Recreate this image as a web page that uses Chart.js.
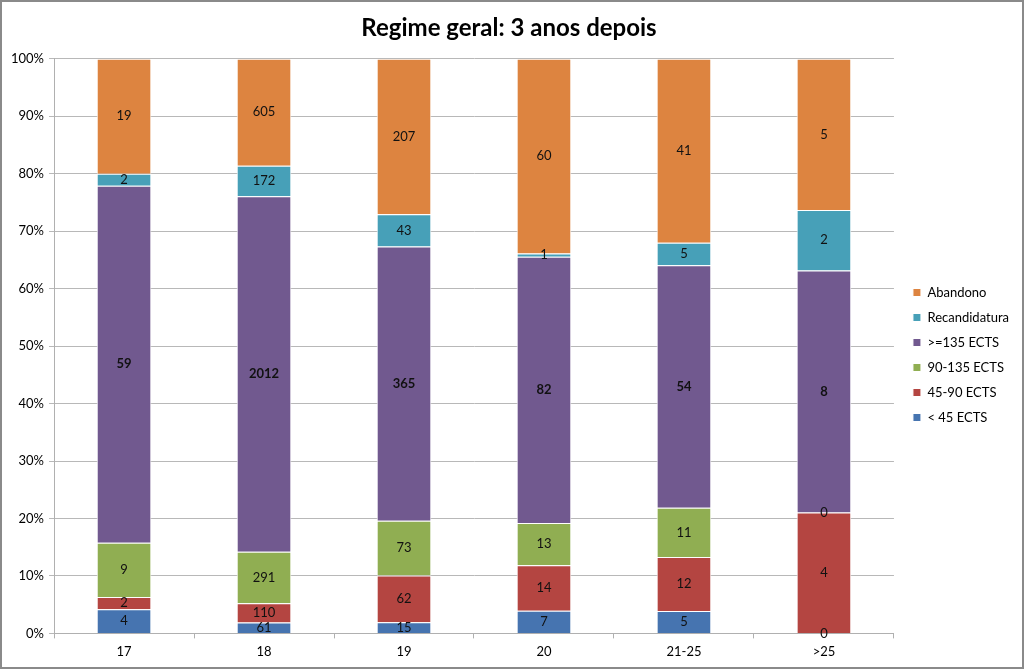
<!DOCTYPE html>
<html>
<head>
<meta charset="utf-8">
<script src="https://cdn.jsdelivr.net/npm/chart.js@4"></script>
<style>
  html, body { margin: 0; padding: 0; background: #fff; }
  #wrap { width: 1024px; height: 669px; position: relative; }
</style>
</head>
<body>
<div id="wrap"><canvas id="chart_regime" width="1024" height="669"></canvas></div>
<script>
// idades de entrada
var categorias = ['17', '18', '19', '20', '21-25', '>25'];

// contagens por grupo
var menos45 = [4, 61, 15, 7, 5, 0];
var de45a90 = [2, 110, 62, 14, 12, 4];
var de90a135 = [9, 291, 73, 13, 11, 0];
var mais135 = [59, 2012, 365, 82, 54, 8];
var recandidatura = [2, 172, 43, 1, 5, 2];
var abandono = [19, 605, 207, 60, 41, 5];

var nomes = ['< 45 ECTS', '45-90 ECTS', '90-135 ECTS', '>=135 ECTS', 'Recandidatura', 'Abandono'];
var cores = ['#4674B0', '#B44541', '#90AE52', '#71598F', '#47A0B8', '#DD8440'];

var series = [menos45, de45a90, de90a135, mais135, recandidatura, abandono];
var totais = categorias.map((c, i) => series.reduce((s, arr) => s + arr[i], 0));

var datasets = series.map((arr, k) => ({
    label: nomes[k],
    data: arr.map((v, i) => v / totais[i] * 100),
    counts: arr,
    backgroundColor: cores[k],
    borderColor: '#ffffff',
    borderWidth: 1,
    categoryPercentage: 1,
    barPercentage: 0.39
}));

// escreve as contagens no meio de cada segmento
var rotulos = {
    id: 'rotulos',
    afterDatasetsDraw(chart) {
        var ctx = chart.ctx;
        ctx.save();
        ctx.textAlign = 'center';
        ctx.textBaseline = 'middle';
        ctx.fillStyle = '#111';
        chart.data.datasets.forEach((ds, k) => {
            ctx.font = (k == 3 ? 'bold ' : '') + '13px Lato';
            chart.getDatasetMeta(k).data.forEach((el, i) => {
                ctx.fillText(String(ds.counts[i]), el.x, (el.y + el.base) / 2);
            });
        });
        ctx.restore();
    }
};

// empurra a legenda um pouco para a direita e para baixo, como no original
var ajusteLegenda = {
    id: 'ajusteLegenda',
    afterLayout(chart) {
        var lg = chart.legend;
        lg.left += 7; lg.right += 7;
        lg.top += 18; lg.bottom += 18;
    }
};

// moldura à volta do gráfico
var moldura = {
    id: 'moldura',
    afterDraw(chart) {
        var ctx = chart.ctx;
        ctx.save();
        ctx.strokeStyle = '#8a8a8a';
        ctx.lineWidth = 2;
        ctx.strokeRect(1, 1, chart.width - 2, chart.height - 2);
        ctx.restore();
    }
};

new Chart(document.getElementById('chart_regime'), {
    type: 'bar',
    data: {
        labels: categorias,
        datasets: datasets
    },
    plugins: [rotulos, ajusteLegenda, moldura],
    options: {
        responsive: false,
        animation: false,
        layout: {
            padding: { top: 8, right: 12, bottom: 3, left: 6 }
        },
        plugins: {
            title: {
                display: true,
                text: 'Regime geral: 3 anos depois',
                color: '#000',
                font: { family: 'Lato', size: 24, weight: 'bold' },
                padding: { top: 6, bottom: 16 }
            },
            legend: {
                position: 'right',
                reverse: true,
                labels: {
                    boxWidth: 8,
                    boxHeight: 8,
                    padding: 12,
                    color: '#000',
                    font: { family: 'Lato', size: 13 }
                }
            },
            tooltip: { enabled: false }
        },
        scales: {
            x: {
                stacked: true,
                grid: {
                    drawOnChartArea: false,
                    drawTicks: true,
                    tickLength: 5,
                    color: '#b0b0b0'
                },
                border: { color: '#b0b0b0' },
                ticks: {
                    color: '#000',
                    padding: 6,
                    font: { family: 'Lato', size: 13 }
                }
            },
            y: {
                stacked: true,
                min: 0,
                max: 100,
                grid: {
                    color: '#b8b8b8',
                    tickLength: 5
                },
                border: { color: '#b0b0b0' },
                ticks: {
                    stepSize: 10,
                    color: '#000',
                    padding: 5,
                    font: { family: 'Lato', size: 13 },
                    callback: v => v + '%'
                }
            }
        }
    }
});
</script>
</body>
</html>
